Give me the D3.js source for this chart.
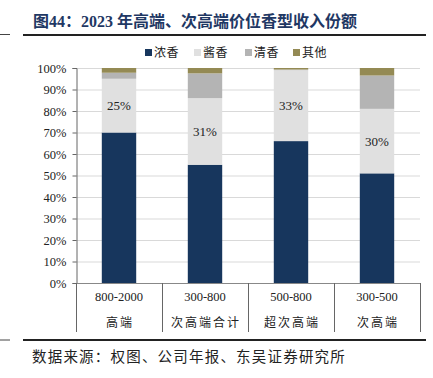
<!DOCTYPE html>
<html>
<head>
<meta charset="utf-8">
<script src="https://cdn.jsdelivr.net/npm/d3@7"></script>
<style>
  body { margin: 0; background: #fff; }
  svg { display: block; }
</style>
</head>
<body>
<svg id="chart"></svg>
<script>
// data
var ranges = ["800-2000", "300-800", "500-800", "300-500"];
var tiers = ["高端", "次高端合计", "超次高端", "次高端"];
var seriesNames = ["浓香", "酱香", "清香", "其他"];
var nongxiang = [70, 55, 66, 51];
var jiangxiang = [25, 31, 33, 30];
var qingxiang = [2.8, 11.5, 0.3, 15.5];
var qita = [2.2, 2.5, 0.7, 3.5];
var yTicks = [0, 10, 20, 30, 40, 50, 60, 70, 80, 90, 100];

var colors = ["#17365d", "#e0e0e0", "#b4b4b4", "#948a54"];
var serif = "'Liberation Serif', 'Noto Sans CJK SC', serif";
var cjk = "'Noto Sans CJK SC', sans-serif";

let svg = d3.select("#chart").attr("width", 433).attr("height", 378);

let rows = ranges.map((r, i) => ({
  key: r, "浓香": nongxiang[i], "酱香": jiangxiang[i], "清香": qingxiang[i], "其他": qita[i]
}));
let stacked = d3.stack().keys(seriesNames)(rows);

let x = d3.scaleBand().domain(ranges).range([76, 420]).paddingInner(0.6).paddingOuter(0.3);
let y = d3.scaleLinear().domain([0, 100]).range([283, 68]);

// title + rules
svg.append("text").attr("x", 33).attr("y", 27)
  .attr("font-family", serif).attr("font-weight", "bold").attr("font-size", 16)
  .attr("fill", "#1f3864")
  .text("图44：2023 年高端、次高端价位香型收入份额");
svg.append("line").attr("x1", 23).attr("x2", 426).attr("y1", 35).attr("y2", 35)
  .attr("stroke", "#222").attr("stroke-width", 2);
svg.append("line").attr("x1", 0).attr("x2", 10).attr("y1", 34.5).attr("y2", 34.5)
  .attr("stroke", "#444").attr("stroke-width", 1);
svg.append("line").attr("x1", 23).attr("x2", 426).attr("y1", 340).attr("y2", 340)
  .attr("stroke", "#222").attr("stroke-width", 2);
svg.append("line").attr("x1", 0).attr("x2", 10).attr("y1", 340).attr("y2", 340)
  .attr("stroke", "#444").attr("stroke-width", 1);
svg.append("text").attr("x", 32).attr("y", 362)
  .attr("font-family", cjk).attr("font-size", 14.5).attr("letter-spacing", 1.2)
  .attr("fill", "#222")
  .text("数据来源：权图、公司年报、东吴证券研究所");

// legend
let legend = svg.append("g");
let legendX = [145, 194, 245, 293];
seriesNames.forEach((s, i) => {
  legend.append("rect").attr("x", legendX[i]).attr("y", 49).attr("width", 7).attr("height", 7)
    .attr("fill", colors[i]);
  legend.append("text").attr("x", legendX[i] + 9).attr("y", 57)
    .attr("font-family", cjk).attr("font-size", 12).attr("letter-spacing", 0.5)
    .attr("fill", "#222").text(s);
});

// gridlines
svg.append("g").selectAll("line").data(yTicks.slice(1)).enter().append("line")
  .attr("x1", 76).attr("x2", 420)
  .attr("y1", d => y(d) + 0.5).attr("y2", d => y(d) + 0.5)
  .attr("stroke", "#d9d9d9").attr("stroke-width", 1);

// bars
svg.append("g").selectAll("g").data(stacked).enter().append("g")
  .attr("fill", (d, i) => colors[i])
  .selectAll("rect").data(d => d).enter().append("rect")
  .attr("x", d => x(d.data.key))
  .attr("width", x.bandwidth())
  .attr("y", d => y(d[1]))
  .attr("height", d => y(d[0]) - y(d[1]));

// 酱香 labels
svg.append("g").selectAll("text").data(stacked[1]).enter().append("text")
  .attr("x", d => x(d.data.key) + x.bandwidth() / 2)
  .attr("y", d => (y(d[0]) + y(d[1])) / 2 + 4.5)
  .attr("text-anchor", "middle")
  .attr("font-family", serif).attr("font-size", 13).attr("fill", "#222")
  .text(d => Math.round(d[1] - d[0]) + "%");

// y axis
let yAxis = svg.append("g").attr("transform", "translate(76.5,0)")
  .call(d3.axisLeft(y).tickValues(yTicks).tickSize(4).tickPadding(6).tickFormat(d => d + "%"));
yAxis.select(".domain").attr("stroke", "#666");
yAxis.selectAll(".tick line").attr("stroke", "#666");
yAxis.selectAll("text").attr("font-family", serif).attr("font-size", 12.5).attr("fill", "#222");

// category axis as a table
svg.append("line").attr("x1", 76).attr("x2", 420).attr("y1", 283.5).attr("y2", 283.5)
  .attr("stroke", "#888");
let dividers = ranges.map(r => x(r) - x.step() * x.paddingInner() / 2).concat([420]);
svg.append("g").selectAll("line").data(dividers).enter().append("line")
  .attr("x1", d => Math.round(d) + 0.5).attr("x2", d => Math.round(d) + 0.5)
  .attr("y1", 283).attr("y2", 332)
  .attr("stroke", "#666");
svg.append("g").selectAll("text").data(ranges).enter().append("text")
  .attr("x", d => x(d) + x.bandwidth() / 2).attr("y", 301)
  .attr("text-anchor", "middle")
  .attr("font-family", serif).attr("font-size", 12.5).attr("fill", "#222")
  .text(d => d);
svg.append("g").selectAll("text").data(tiers).enter().append("text")
  .attr("x", (d, i) => x(ranges[i]) + x.bandwidth() / 2 + 1).attr("y", 327)
  .attr("text-anchor", "middle")
  .attr("font-family", cjk).attr("font-size", 12).attr("letter-spacing", 2)
  .attr("fill", "#222")
  .text(d => d);
</script>
</body>
</html>
